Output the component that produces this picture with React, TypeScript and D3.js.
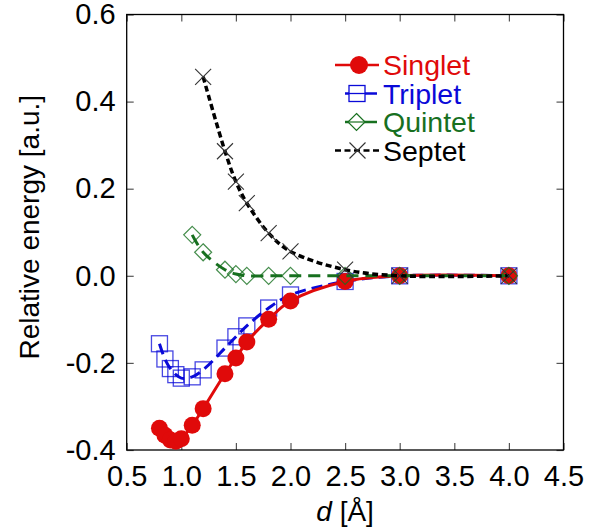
import React, { useEffect, useRef } from "react";
import * as d3 from "d3";

// distances (Å) and relative energies (a.u.)
const dSingletTriplet = [0.8, 0.85, 0.9, 0.95, 1.0, 1.1, 1.2, 1.4, 1.5, 1.6, 1.8, 2.0, 2.5, 3.0, 4.0];
const singlet = [-0.35, -0.366, -0.377, -0.38, -0.374, -0.343, -0.305, -0.225, -0.189, -0.152, -0.1, -0.058, -0.013, 0, 0];
const triplet = [-0.156, -0.191, -0.213, -0.227, -0.235, -0.232, -0.216, -0.166, -0.14, -0.115, -0.074, -0.044, -0.013, 0, 0];
const dQuintet = [1.1, 1.2, 1.4, 1.5, 1.6, 1.8, 2.0, 2.5, 3.0, 4.0];
const quintet = [0.094, 0.054, 0.014, 0.004, 0.0, 0, 0, 0, 0, 0];
const dSeptet = [1.2, 1.4, 1.5, 1.6, 1.8, 2.0, 2.5, 3.0, 4.0];
const septet = [0.457, 0.286, 0.216, 0.167, 0.098, 0.056, 0.014, 0, 0];

const xTicks = [0.5, 1.0, 1.5, 2.0, 2.5, 3.0, 3.5, 4.0, 4.5];
const yTicks = [-0.4, -0.2, 0.0, 0.2, 0.4, 0.6];
const seriesNames = ["Singlet", "Triplet", "Quintet", "Septet"];

const FONT = "'Liberation Sans', Arial, Helvetica, sans-serif";
const RED = "#e00a0a";
const BLUE = "#0a0ad8";
const GREEN = "#17701f";

export default function App() {
  const ref = useRef<SVGSVGElement>(null);

  useEffect(() => {
    const svg = d3.select(ref.current);
    svg.selectAll("*").remove();

    const left = 126.7, right = 563.5, top = 14.5, bottom = 450;
    const x = d3.scaleLinear().domain([0.5, 4.5]).range([left, right]);
    const y = d3.scaleLinear().domain([-0.4, 0.6]).range([bottom, top]);

    const zip = (xs: number[], ys: number[]) => xs.map((d, i) => [d, ys[i]] as [number, number]);
    const line = d3
      .line<[number, number]>()
      .x(d => x(d[0]))
      .y(d => y(d[1]))
      .curve(d3.curveCatmullRom.alpha(0.5));

    // axes with inward ticks on all four sides
    const tickLen = 7;
    const axes = svg.append("g").attr("font-family", FONT);
    axes
      .append("g")
      .attr("transform", `translate(0,${bottom})`)
      .call(d3.axisBottom(x).tickValues(xTicks).tickSizeInner(-tickLen).tickSizeOuter(0).tickPadding(15).tickFormat(d3.format(".1f")));
    axes
      .append("g")
      .attr("transform", `translate(0,${top})`)
      .call(d3.axisTop(x).tickValues(xTicks).tickSizeInner(-tickLen).tickSizeOuter(0).tickFormat(() => ""));
    axes
      .append("g")
      .attr("transform", `translate(${left},0)`)
      .call(d3.axisLeft(y).tickValues(yTicks).tickSizeInner(-tickLen).tickSizeOuter(0).tickPadding(11).tickFormat(d3.format(".1f")));
    axes
      .append("g")
      .attr("transform", `translate(${right},0)`)
      .call(d3.axisRight(y).tickValues(yTicks).tickSizeInner(-tickLen).tickSizeOuter(0).tickFormat(() => ""));
    axes.selectAll(".domain").remove();
    axes.selectAll(".tick line").attr("stroke", "#555").attr("stroke-width", 1.2);
    axes.selectAll(".tick text").attr("font-size", 29).attr("fill", "#000").attr("font-family", FONT);
    // plain hyphen minus like the original
    axes.selectAll(".tick text").text(function () {
      return (d3.select(this).text() || "").replace("−", "-");
    });

    svg
      .append("rect")
      .attr("x", left)
      .attr("y", top)
      .attr("width", right - left)
      .attr("height", bottom - top)
      .attr("fill", "none")
      .attr("stroke", "#000")
      .attr("stroke-width", 1.3);

    // axis titles
    const xl = svg
      .append("text")
      .attr("x", (left + right) / 2)
      .attr("y", 521)
      .attr("text-anchor", "middle")
      .attr("font-family", FONT)
      .attr("font-size", 28);
    xl.append("tspan").attr("font-style", "italic").text("d");
    xl.append("tspan").text(" [Å]");

    svg
      .append("text")
      .attr("transform", `translate(39,${(top + bottom) / 2 - 5}) rotate(-90)`)
      .attr("text-anchor", "middle")
      .attr("font-family", FONT)
      .attr("font-size", 28)
      .text("Relative energy [a.u.]");

    const plot = svg.append("g");

    // Triplet
    plot
      .append("path")
      .attr("d", line(zip(dSingletTriplet, triplet)))
      .attr("fill", "none")
      .attr("stroke", BLUE)
      .attr("stroke-width", 3)
      .attr("stroke-dasharray", "11,6");
    plot
      .selectAll(".tri")
      .data(zip(dSingletTriplet, triplet))
      .enter()
      .append("rect")
      .attr("x", d => x(d[0]) - 8)
      .attr("y", d => y(d[1]) - 8)
      .attr("width", 16)
      .attr("height", 16)
      .attr("fill", "none")
      .attr("stroke", BLUE)
      .attr("stroke-opacity", 0.75)
      .attr("stroke-width", 1.3);

    // Singlet
    plot
      .append("path")
      .attr("d", line(zip(dSingletTriplet, singlet)))
      .attr("fill", "none")
      .attr("stroke", RED)
      .attr("stroke-width", 3);
    plot
      .selectAll(".sing")
      .data(zip(dSingletTriplet, singlet))
      .enter()
      .append("circle")
      .attr("cx", d => x(d[0]))
      .attr("cy", d => y(d[1]))
      .attr("r", 8.5)
      .attr("fill", RED);

    // Quintet
    const diamond = (cx: number, cy: number, s: number) =>
      `M${cx},${cy - s}L${cx + s},${cy}L${cx},${cy + s}L${cx - s},${cy}Z`;
    plot
      .append("path")
      .attr("d", line(zip(dQuintet, quintet)))
      .attr("fill", "none")
      .attr("stroke", GREEN)
      .attr("stroke-width", 3)
      .attr("stroke-dasharray", "12,7");
    plot
      .selectAll(".quin")
      .data(zip(dQuintet, quintet))
      .enter()
      .append("path")
      .attr("d", d => diamond(x(d[0]), y(d[1]), 8.5))
      .attr("fill", "none")
      .attr("stroke", GREEN)
      .attr("stroke-opacity", 0.8)
      .attr("stroke-width", 1.2);

    // Septet
    plot
      .append("path")
      .attr("d", line(zip(dSeptet, septet)))
      .attr("fill", "none")
      .attr("stroke", "#000")
      .attr("stroke-width", 3.5)
      .attr("stroke-dasharray", "6,3.5");
    const cross = (cx: number, cy: number, s: number) =>
      `M${cx - s},${cy - s}L${cx + s},${cy + s}M${cx - s},${cy + s}L${cx + s},${cy - s}`;
    plot
      .selectAll(".sep")
      .data(zip(dSeptet, septet))
      .enter()
      .append("path")
      .attr("d", d => cross(x(d[0]), y(d[1]), 8))
      .attr("fill", "none")
      .attr("stroke", "#333")
      .attr("stroke-width", 1.1);

    // legend
    const lg = svg.append("g").attr("font-family", FONT).attr("font-size", 28.5);
    const colors = [RED, BLUE, GREEN, "#000"];
    const baselines = [75, 103.5, 132, 160.5];
    seriesNames.forEach((name, i) => {
      const cy = baselines[i] - 10;
      const mx = 357.5;
      const long = i === 0 || i === 3;
      lg.append("line")
        .attr("x1", long ? 335 : 345)
        .attr("x2", long ? 379 : 377)
        .attr("y1", cy)
        .attr("y2", cy)
        .attr("stroke", colors[i])
        .attr("stroke-width", 2.5)
        .attr("stroke-dasharray", i === 3 ? "6,3.5" : null);
      if (i === 0) {
        lg.append("circle").attr("cx", mx + 1.5).attr("cy", cy).attr("r", 9).attr("fill", RED);
      } else if (i === 1) {
        lg.append("rect")
          .attr("x", mx - 8.5)
          .attr("y", cy - 8)
          .attr("width", 16)
          .attr("height", 16)
          .attr("fill", "#fff")
          .attr("stroke", BLUE)
          .attr("stroke-width", 1.3);
        lg.append("line").attr("x1", mx - 8.5).attr("x2", mx + 7.5).attr("y1", cy).attr("y2", cy).attr("stroke", BLUE).attr("stroke-width", 1.3);
      } else if (i === 2) {
        lg.append("path")
          .attr("d", diamond(mx - 1, cy, 8.5))
          .attr("fill", "#fff")
          .attr("stroke", GREEN)
          .attr("stroke-width", 1.2);
        lg.append("line").attr("x1", mx - 9).attr("x2", mx + 7).attr("y1", cy).attr("y2", cy).attr("stroke", GREEN).attr("stroke-width", 1.2);
      } else {
        lg.append("path").attr("d", cross(mx, cy, 8)).attr("stroke", "#333").attr("stroke-width", 1.1);
      }
      lg.append("text").attr("x", 383).attr("y", baselines[i]).attr("fill", colors[i]).text(name);
    });
  }, []);

  return (
    <div style={{ position: "absolute", left: 0, top: 0 }}>
      <svg ref={ref} width={597} height={532} style={{ display: "block" }} />
    </div>
  );
}
